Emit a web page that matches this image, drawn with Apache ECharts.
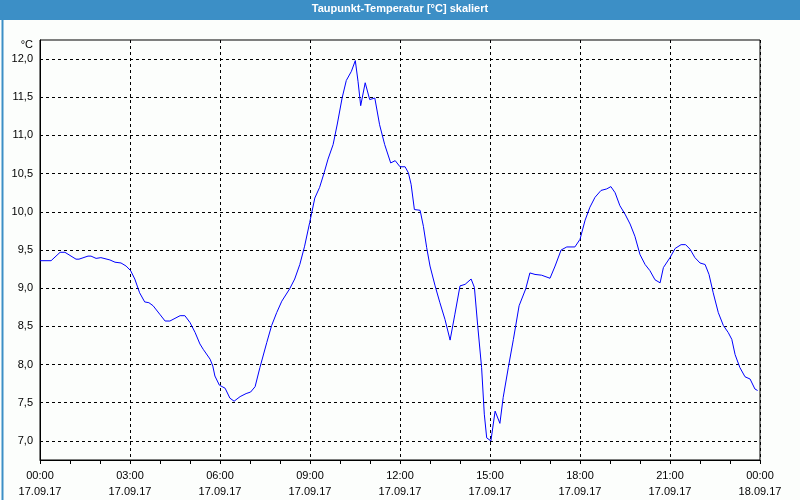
<!DOCTYPE html>
<html>
<head>
<meta charset="utf-8">
<script src="https://cdn.jsdelivr.net/npm/echarts@6/dist/echarts.min.js"></script>
<style>
  html, body { margin: 0; padding: 0; background: #fcfefc; }
  #chart { width: 800px; height: 500px; }
</style>
</head>
<body>
<div id="chart"></div>
<script>
  // Stunden seit 17.09.17 00:00
  const hours = [
    0, 0.37, 0.67, 0.83, 1.2, 1.3, 1.6, 1.7, 1.87, 2.03, 2.33, 2.5, 2.7, 2.87,
    3.02, 3.16, 3.32, 3.49, 3.63, 3.77, 3.99, 4.17, 4.33, 4.67, 4.83, 5.0, 5.17,
    5.33, 5.44, 5.67, 5.76, 5.83, 5.98, 6.17, 6.33, 6.47, 6.67, 6.87, 7.02, 7.17,
    7.33, 7.56, 7.72, 7.89, 8.06, 8.32, 8.49, 8.66, 8.82, 8.99, 9.16, 9.32, 9.47,
    9.6, 9.77, 9.91, 10.07, 10.21, 10.38, 10.51, 10.6, 10.69, 10.84, 10.99, 11.16,
    11.32, 11.49, 11.69, 11.84, 12.0, 12.17, 12.28, 12.37, 12.48, 12.67, 12.78,
    12.89, 13.0, 13.17, 13.33, 13.5, 13.67, 13.83, 14.0, 14.17, 14.37, 14.48,
    14.59, 14.72, 14.81, 14.89, 15.03, 15.17, 15.33, 15.44, 15.61, 15.78, 15.97,
    16.19, 16.33, 16.5, 16.72, 17.0, 17.17, 17.37, 17.56, 17.83, 18.0, 18.17,
    18.33, 18.5, 18.7, 18.89, 19.03, 19.17, 19.33, 19.5, 19.67, 19.83, 20.0,
    20.17, 20.33, 20.5, 20.67, 20.78, 21.0, 21.17, 21.37, 21.52, 21.67, 21.83,
    22.0, 22.17, 22.3, 22.44, 22.61, 22.78, 22.94, 23.06, 23.17, 23.33, 23.5,
    23.67, 23.83, 23.92
  ];
  const taupunkt = [
    9.36, 9.36, 9.47, 9.47, 9.38, 9.38, 9.42, 9.42, 9.39, 9.40, 9.37, 9.34, 9.33, 9.29,
    9.23, 9.12, 8.94, 8.82, 8.81, 8.77, 8.66, 8.57, 8.57, 8.64, 8.64, 8.55, 8.42,
    8.27, 8.20, 8.07, 7.98, 7.85, 7.73, 7.69, 7.56, 7.52, 7.58, 7.62, 7.64, 7.71,
    7.96, 8.29, 8.51, 8.68, 8.83, 8.99, 9.12, 9.31, 9.55, 9.86, 10.18, 10.32, 10.51,
    10.69, 10.88, 11.15, 11.49, 11.72, 11.84, 11.98, 11.71, 11.39, 11.69, 11.47, 11.49,
    11.14, 10.88, 10.64, 10.67, 10.59, 10.59, 10.51, 10.36, 10.03, 10.02, 9.81,
    9.53, 9.29, 9.03, 8.81, 8.59, 8.32, 8.66, 9.03, 9.05, 9.12, 9.01,
    8.51, 7.96, 7.35, 7.04, 7.00, 7.39, 7.23, 7.57, 7.96, 8.33, 8.77,
    8.99, 9.20, 9.18, 9.17, 9.13, 9.29, 9.50, 9.54, 9.54, 9.64, 9.89,
    10.06, 10.19, 10.28, 10.30, 10.33, 10.25, 10.08, 9.97, 9.84, 9.68, 9.44,
    9.31, 9.23, 9.11, 9.07, 9.27, 9.40, 9.52, 9.57, 9.57, 9.51, 9.40,
    9.33, 9.31, 9.18, 8.94, 8.68, 8.51, 8.42, 8.33, 8.13, 7.96, 7.84,
    7.81, 7.68, 7.66
  ];
  const tickTimes = ['00:00', '03:00', '06:00', '09:00', '12:00', '15:00', '18:00', '21:00', '00:00'];
  const tickDates = ['17.09.17', '17.09.17', '17.09.17', '17.09.17', '17.09.17', '17.09.17', '17.09.17', '17.09.17', '18.09.17'];

  const font = 'Liberation Sans, Arial, sans-serif';
  const chart = echarts.init(document.getElementById('chart'));

  chart.setOption({
    backgroundColor: '#fcfefc',
    animation: false,
    graphic: [
      { type: 'rect', left: 0, top: 0, shape: { width: 800, height: 20 }, style: { fill: '#3c8fc6' }, z: 0 },
      { type: 'rect', left: 0, top: 0, shape: { x: 0.5, y: 0.5, width: 799, height: 499 },
        style: { fill: 'none', stroke: '#3c8fc6', lineWidth: 2 }, z: 0 }
    ],
    title: {
      text: 'Taupunkt-Temperatur [°C] skaliert',
      left: 'center',
      top: 0,
      padding: [3, 5],
      textStyle: { color: '#fff', fontSize: 11, fontWeight: 'bold', fontFamily: font }
    },
    grid: { left: 40, right: 40, top: 40, bottom: 40, show: true, borderColor: '#000', borderWidth: 1 },
    xAxis: {
      type: 'value',
      min: 0,
      max: 24,
      interval: 3,
      axisLine: { lineStyle: { color: '#000' } },
      axisTick: { length: 4, lineStyle: { color: '#000' } },
      minorTick: { show: true, splitNumber: 3, length: 4, lineStyle: { color: '#000' } },
      splitLine: { show: true, lineStyle: { color: '#000', type: [3, 3] } },
      axisLabel: {
        margin: 8,
        lineHeight: 16,
        color: '#000',
        fontSize: 11,
        fontFamily: font,
        formatter: v => {
          const i = Math.round(v / 3);
          return tickTimes[i] + '\n' + tickDates[i];
        }
      }
    },
    yAxis: {
      type: 'value',
      min: 6.75,
      max: 12.25,
      interval: 0.25,
      name: '°C',
      nameLocation: 'end',
      nameGap: -5,
      nameTextStyle: { color: '#000', fontSize: 11, fontFamily: font, align: 'right', verticalAlign: 'middle', padding: [0, 7, 0, 0] },
      axisLine: { show: true, lineStyle: { color: '#000' } },
      axisTick: { show: false },
      splitLine: { show: true, lineStyle: { color: ['rgba(0,0,0,0)', '#000'], type: [3, 3] } },
      axisLabel: {
        margin: 7,
        color: '#000',
        fontSize: 11,
        fontFamily: font,
        formatter: v => {
          const r = Math.round(v * 100);
          return r % 50 === 0 ? v.toFixed(1).replace('.', ',') : '';
        }
      }
    },
    series: [{
      type: 'line',
      data: hours.map((h, i) => [h, taupunkt[i]]),
      showSymbol: false,
      lineStyle: { color: '#0000ff', width: 1 },
      itemStyle: { color: '#0000ff' }
    }]
  });
</script>
</body>
</html>
